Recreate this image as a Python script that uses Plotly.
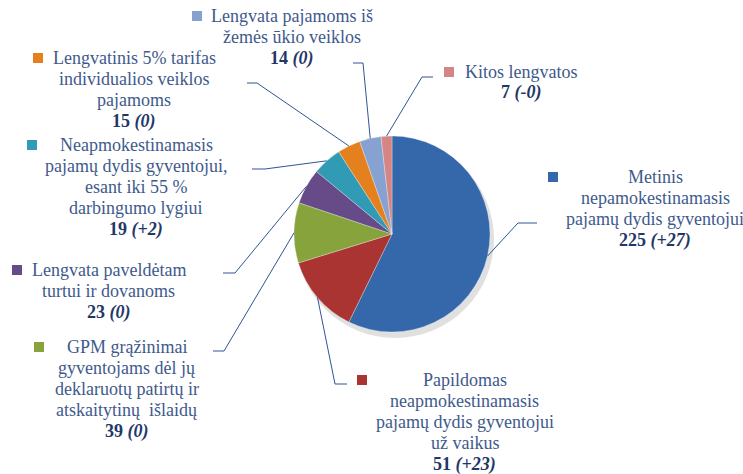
import math
import plotly.graph_objects as go

# data
labels = [
    "Metinis<br>nepamokestinamasis<br>pajamų dydis gyventojui",
    "Papildomas<br>neapmokestinamasis<br>pajamų dydis gyventojui<br>už vaikus",
    "GPM grąžinimai<br>gyventojams dėl jų<br>deklaruotų patirtų ir<br>atskaitytinų  išlaidų",
    "Lengvata paveldėtam<br>turtui ir dovanoms",
    "Neapmokestinamasis<br>pajamų dydis gyventojui,<br>esant iki 55 %<br>darbingumo lygiui",
    "Lengvatinis 5% tarifas<br>individualios veiklos<br>pajamoms",
    "Lengvata pajamoms iš<br>žemės ūkio veiklos",
    "Kitos lengvatos",
]
values = [225, 51, 39, 23, 19, 15, 14, 7]
changes = ["+27", "+23", "0", "0", "+2", "0", "0", "-0"]
colors = ["#3468AA", "#AA3432", "#86A33C", "#674A88", "#319BB5", "#E5801F", "#87A2D0", "#D58584"]

W, H = 743, 474
CX, CY, R = 392, 234, 98
LINE = 21

# label layout: (text centre x, first line centre y, square x, leader elbow, leader end)
layout_pos = [
    (655, 177, 553, (518, 223), (537, 223)),
    (465, 380, 362, (335, 384), (347, 384)),
    (127, 347, 39, (224, 351), (213, 351)),
    (109, 270, 17, (235, 273), (223, 273)),
    (136, 145, 32, (265, 169), (252, 169)),
    (134, 58, 38, (257, 83), (247, 83)),
    (292, 16, 197, (363, 63), (353, 63)),
    (521, 72, 449, (422, 77), (433, 77)),
]

TEXT = "#3E5A8C"
NUM = "#1F3868"
FONT = "Liberation Serif"


def px(x, y):
    return x / W, 1 - y / H


fig = go.Figure()
fig.add_trace(go.Pie(
    labels=[l.replace("<br>", " ") for l in labels],
    values=values,
    sort=False,
    direction="clockwise",
    rotation=0,
    textinfo="none",
    hoverinfo="label+value",
    marker=dict(colors=colors, line=dict(color="rgba(255,255,255,0.6)", width=0.5)),
    domain=dict(x=[(CX - R) / W, (CX + R) / W], y=[(H - CY - R) / H, (H - CY + R) / H]),
    showlegend=False,
))

annotations = []
shapes = []

# soft shadow behind pie
x0, y0 = px(CX - R + 2, CY - R + 4)
x1, y1 = px(CX + R + 4, CY + R + 6)
shapes.append(dict(type="circle", xref="paper", yref="paper", x0=x0, y0=y1, x1=x1, y1=y0,
                   fillcolor="rgba(0,0,0,0.12)", line=dict(width=0), layer="below"))

total = sum(values)
cum = 0
for i, v in enumerate(values):
    mid = (cum + v / 2) / total * 2 * math.pi
    cum += v
    ex, ey = CX + R * math.sin(mid), CY - R * math.cos(mid)
    tx, ty, sx, elbow, end = layout_pos[i]

    # leader line
    p = [px(ex, ey), px(*elbow), px(*end)]
    path = "M {} {} L {} {} L {} {}".format(p[0][0], p[0][1], p[1][0], p[1][1], p[2][0], p[2][1])
    shapes.append(dict(type="path", xref="paper", yref="paper", path=path,
                       line=dict(color="#2F5597", width=1)))

    # colour square
    qx0, qy0 = px(sx - 5, ty - 5)
    qx1, qy1 = px(sx + 5, ty + 5)
    shapes.append(dict(type="rect", xref="paper", yref="paper", x0=qx0, y0=qy1, x1=qx1, y1=qy0,
                       fillcolor=colors[i], line=dict(width=0)))

    lines = labels[i].split("<br>")
    lines.append("<span style='color:%s'><b>%d <i>(%s)</i></b></span>" % (NUM, v, changes[i]))
    for k, line in enumerate(lines):
        ax, ay = px(tx, ty + k * LINE)
        annotations.append(dict(x=ax, y=ay, xref="paper", yref="paper", text=line,
                                showarrow=False, xanchor="center", yanchor="middle",
                                font=dict(family=FONT, size=18, color=TEXT)))

fig.update_layout(
    width=W, height=H,
    margin=dict(l=0, r=0, t=0, b=0),
    paper_bgcolor="white",
    plot_bgcolor="white",
    annotations=annotations,
    shapes=shapes,
)

fig.write_html("out.html", config={"displayModeBar": False},
               post_script="document.body.style.margin='0';")
